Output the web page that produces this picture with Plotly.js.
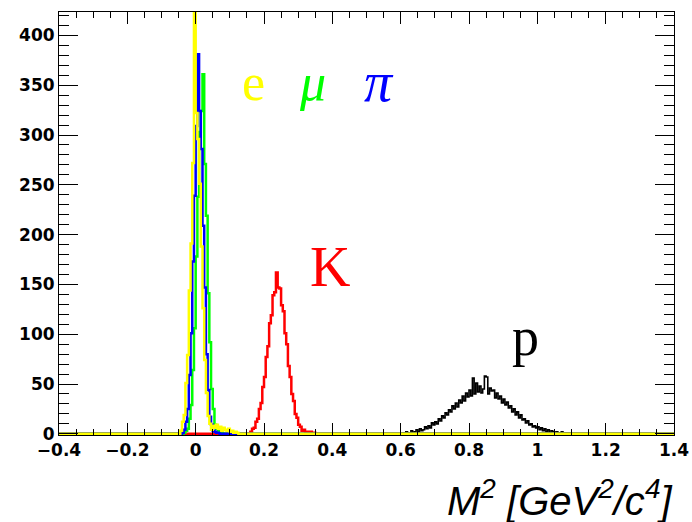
<!DOCTYPE html>
<html>
<head>
<meta charset="utf-8">
<script src="https://cdn.plot.ly/plotly-3.0.1.min.js"></script>
<style>html,body{margin:0;padding:0;background:#fff}</style>
</head>
<body>
<div id="plot" style="width:692px;height:522px"></div>
<script>
// Squared-mass histograms, one per particle species (bin width 0.005 GeV^2/c^4)
const binWidth = 0.005;
const xMin = -0.4;
const xMax = 1.4;

// electrons
const eStart = -0.045;
const eCounts = [3, 12, 19, 51, 79, 144, 191, 272, 431, 322, 296, 251, 188, 126, 74, 41, 18, 10,
                 4, 8, 6, 9, 5, 7, 3, 6, 4, 3, 5, 2, 3, 1, 2, 1];

// muons
const muStart = -0.04;
const muCounts = [0, 1, 3, 5, 15, 29, 64, 106, 178, 238, 303, 324, 361, 271, 219, 141, 92, 45,
                  25, 9, 5, 2, 3, 1];

// pions
const piStart = -0.045;
const piCounts = [0, 1, 4, 12, 25, 59, 101, 173, 239, 309, 381, 324, 286, 209, 147, 80, 44, 17,
                  9, 3, 2, 1, 1];

// kaons
const kStart = 0.16;
const kCounts = [2, 5, 6, 12, 15, 25, 31, 47, 57, 77, 88, 111, 119, 139, 142, 162, 147, 146,
                 129, 123, 101, 90, 68, 57, 40, 33, 20, 16, 9, 7, 3, 4, 1, 2, 1, 2, 0, 1];

// protons
const pStart = 0.6;
const pCounts = [0, 1, 0, 2, 1, 1, 3, 1, 2, 4,
                 2, 5, 3, 4, 7, 5, 8, 6, 11, 9,
                 12, 10, 15, 13, 18, 16, 21, 19, 24, 22,
                 28, 25, 31, 27, 34, 31, 38, 33, 41, 37,
                 44, 38, 56, 40, 51, 42, 48, 41, 45, 58,
                 57, 40, 46, 43, 44, 36, 41, 35, 38, 31,
                 35, 29, 32, 26, 28, 22, 25, 19, 22, 16,
                 19, 14, 15, 11, 13, 9, 10, 7, 8, 6,
                 7, 4, 6, 3, 5, 2, 4, 1, 3, 2,
                 1, 2, 0, 1, 2, 0, 1, 0, 1, 0];

// Species, drawn back to front
const species = [
  {name: 'p',   start: pStart,  counts: pCounts,  color: '#000000', width: 1.6},
  {name: 'K',   start: kStart,  counts: kCounts,  color: '#ff0000', width: 2.5},
  {name: 'mu',  start: muStart, counts: muCounts, color: '#00ff00', width: 2.5},
  {name: 'pi',  start: piStart, counts: piCounts, color: '#0000ff', width: 2.5},
  {name: 'e',   start: eStart,  counts: eCounts,  color: '#ffff00', width: 2.5}
];

// Expand a partial histogram to the full axis range as a step line
function fullHist(start, counts) {
  const n = Math.round((xMax - xMin) / binWidth);
  const y = new Array(n).fill(0);
  const off = Math.round((start - xMin) / binWidth);
  counts.forEach((c, i) => { y[off + i] = c; });
  const x = [];
  for (let i = 0; i < n; i++) x.push(xMin + i * binWidth);
  x.push(xMax);
  y.push(y[n - 1]);
  return {x, y};
}

const traces = species.map(s => {
  const h = fullHist(s.start, s.counts);
  return {
    type: 'scatter', mode: 'lines', x: h.x, y: h.y, name: s.name,
    line: {color: s.color, width: s.width, shape: 'hv'},
    hoverinfo: 'skip'
  };
});

const tickFont = {family: 'DejaVu Sans', size: 17, color: '#000', weight: 'bold'};
const serif = 'Liberation Serif, Times New Roman, serif';

const layout = {
  width: 692, height: 522,
  margin: {l: 59, r: 18, t: 12, b: 87},
  paper_bgcolor: '#fff', plot_bgcolor: '#fff',
  showlegend: false,
  xaxis: {
    range: [xMin, xMax], tick0: -0.4, dtick: 0.2,
    showgrid: false, zeroline: false,
    showline: true, linecolor: '#000', linewidth: 1, mirror: 'ticks',
    ticks: 'inside', ticklen: 12, tickcolor: '#000', tickwidth: 1,
    minor: {dtick: 0.05, ticks: 'inside', ticklen: 6, tickcolor: '#000', showgrid: false},
    tickfont: tickFont
  },
  yaxis: {
    range: [-1.2, 423.5], tick0: 0, dtick: 50,
    showgrid: false, zeroline: false,
    showline: true, linecolor: '#000', linewidth: 1, mirror: 'ticks',
    ticks: 'inside', ticklen: 19, tickcolor: '#000', tickwidth: 1,
    minor: {dtick: 10, ticks: 'inside', ticklen: 10, tickcolor: '#000', showgrid: false},
    tickfont: tickFont
  },
  annotations: [
    {text: 'e', xref: 'x', yref: 'y', x: 0.168, y: 353, showarrow: false,
     font: {family: serif, size: 52, color: '#ffff00'}},
    {text: '<i>μ</i>', xref: 'x', yref: 'y', x: 0.342, y: 353, showarrow: false,
     font: {family: serif, size: 52, color: '#00ff00'}},
    {text: '<i>π</i>', xref: 'x', yref: 'y', x: 0.537, y: 353, showarrow: false,
     font: {family: serif, size: 56, color: '#0000ff'}},
    {text: 'K', xref: 'x', yref: 'y', x: 0.392, y: 167, showarrow: false,
     font: {family: serif, size: 56, color: '#ff0000'}},
    {text: 'p', xref: 'x', yref: 'y', x: 0.966, y: 97, showarrow: false,
     font: {family: serif, size: 54, color: '#000000'}},
    {text: '<i>M<sup>2</sup> [GeV<sup>2</sup>/c<sup>4</sup>]</i>', xref: 'paper', yref: 'paper',
     x: 1.0, xanchor: 'right', y: -0.15, yanchor: 'middle', showarrow: false,
     font: {family: 'Liberation Sans, Arial, sans-serif', size: 40, color: '#000'}}
  ]
};

Plotly.newPlot('plot', traces, layout, {displayModeBar: false, staticPlot: true});
</script>
</body>
</html>
